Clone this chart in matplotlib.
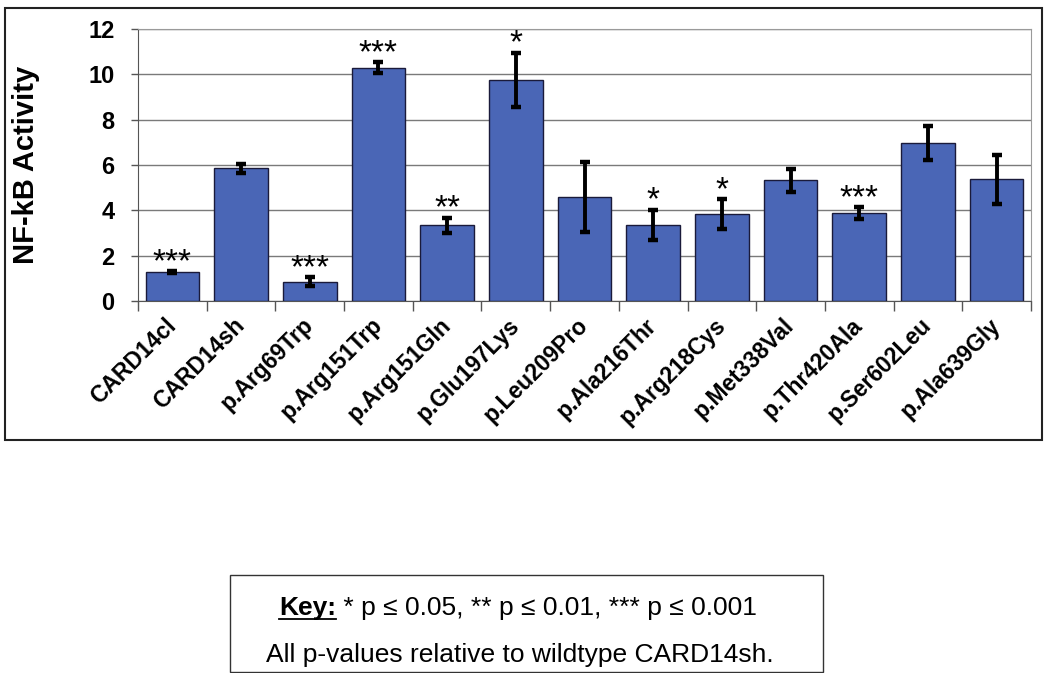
import matplotlib
matplotlib.use("Agg")
import matplotlib.pyplot as plt
from matplotlib.patches import Rectangle
from matplotlib.lines import Line2D
import numpy as np

plt.rcParams['font.family'] = ['Liberation Sans', 'DejaVu Sans']

# données
variants = ["CARD14cl", "CARD14sh", "p.Arg69Trp", "p.Arg151Trp", "p.Arg151Gln",
            "p.Glu197Lys", "p.Leu209Pro", "p.Ala216Thr", "p.Arg218Cys",
            "p.Met338Val", "p.Thr420Ala", "p.Ser602Leu", "p.Ala639Gly"]
activity = [1.28, 5.85, 0.85, 10.3, 3.35, 9.75, 4.58, 3.35, 3.83, 5.32, 3.87, 6.96, 5.37]
errors = [0.05, 0.2, 0.2, 0.25, 0.33, 1.2, 1.55, 0.68, 0.67, 0.5, 0.27, 0.75, 1.08]
stars = ["***", "", "***", "***", "**", "*", "", "*", "*", "", "***", "", ""]
yticks = [0, 2, 4, 6, 8, 10, 12]

W, H = 1050, 673
fig = plt.figure(figsize=(10.5, 6.73), dpi=100)
ax = fig.add_axes([138 / W, 1 - 301 / H, 893 / W, 272 / H])

x = np.arange(len(variants))
ax.bar(x, activity, width=0.78, color="#4a66b6", edgecolor="#1a1a3a", linewidth=1.0, zorder=3)
ax.errorbar(x, activity, yerr=errors, fmt="none", ecolor="black", elinewidth=2.8,
            capsize=3.5, capthick=3.2, zorder=4)

# étoiles de significativité
for xi, v, e, s in zip(x, activity, errors, stars):
    if s:
        ax.annotate(s, (xi, v + e), xytext=(0, -5), textcoords="offset points",
                    ha="center", va="bottom", fontsize=24, zorder=5)

ax.set_xlim(-0.5, len(variants) - 0.5)
ax.set_ylim(0, 12)
ax.set_yticks(yticks)
ax.set_yticklabels([str(t) for t in yticks], fontsize=17, fontweight="bold")
ax.yaxis.grid(True, color="#7a7a7a", linewidth=1.0, zorder=0)
ax.set_axisbelow(True)

ax.set_xticks(x)
ax.set_xticklabels(variants, rotation=45, ha="right", va="center", rotation_mode="anchor",
                   fontsize=16.5, fontweight="bold")
ax.set_xticks(np.arange(len(variants) + 1) - 0.5, minor=True)
ax.tick_params(axis="x", which="major", length=0, pad=15)
ax.tick_params(axis="x", which="minor", length=7, width=1, color="#555555")
ax.tick_params(axis="y", length=5, width=1, color="#555555", pad=12)

ax.set_ylabel("NF-kB Activity", fontsize=21, fontweight="bold")
ax.yaxis.set_label_coords((40 - 138) / 893, 0.5)

for side in ["left", "bottom"]:
    ax.spines[side].set_color("#555555")
for side in ["top", "right"]:
    ax.spines[side].set_color("#9a9a9a")

# cadre extérieur
fig.patches.append(Rectangle((5 / W, 1 - 440 / H), 1037 / W, 432 / H, transform=fig.transFigure,
                             fill=False, edgecolor="#222222", linewidth=1.5))

# encadré de la légende
fig.patches.append(Rectangle((230 / W, 1 - 672 / H), 593 / W, 97 / H, transform=fig.transFigure,
                             fill=False, edgecolor="#333333", linewidth=1.0))

fig.canvas.draw()
renderer = fig.canvas.get_renderer()
y1 = 1 - 608 / H
t_key = fig.text(0, y1, "Key:", fontsize=19, fontweight="bold", va="center", ha="left")
t_rest = fig.text(0, y1, " * p \u2264 0.05, ** p \u2264 0.01, *** p \u2264 0.001", fontsize=19,
                  va="center", ha="left")
bk = t_key.get_window_extent(renderer)
br = t_rest.get_window_extent(renderer)
total = bk.width + br.width
x0 = (518 - total / 2) / W
t_key.set_x(x0)
t_rest.set_x(x0 + bk.width / W)
fig.canvas.draw()
bk = t_key.get_window_extent(renderer)
fig.lines.append(Line2D([bk.x0 / W, bk.x1 / W], [(bk.y0 + 1) / H, (bk.y0 + 1) / H],
                        transform=fig.transFigure, color="black", linewidth=1.3))

fig.text(520 / W, 1 - 655 / H, "All p-values relative to wildtype CARD14sh.", fontsize=19,
         ha="center", va="center")

fig.savefig("out.png", dpi=100)
